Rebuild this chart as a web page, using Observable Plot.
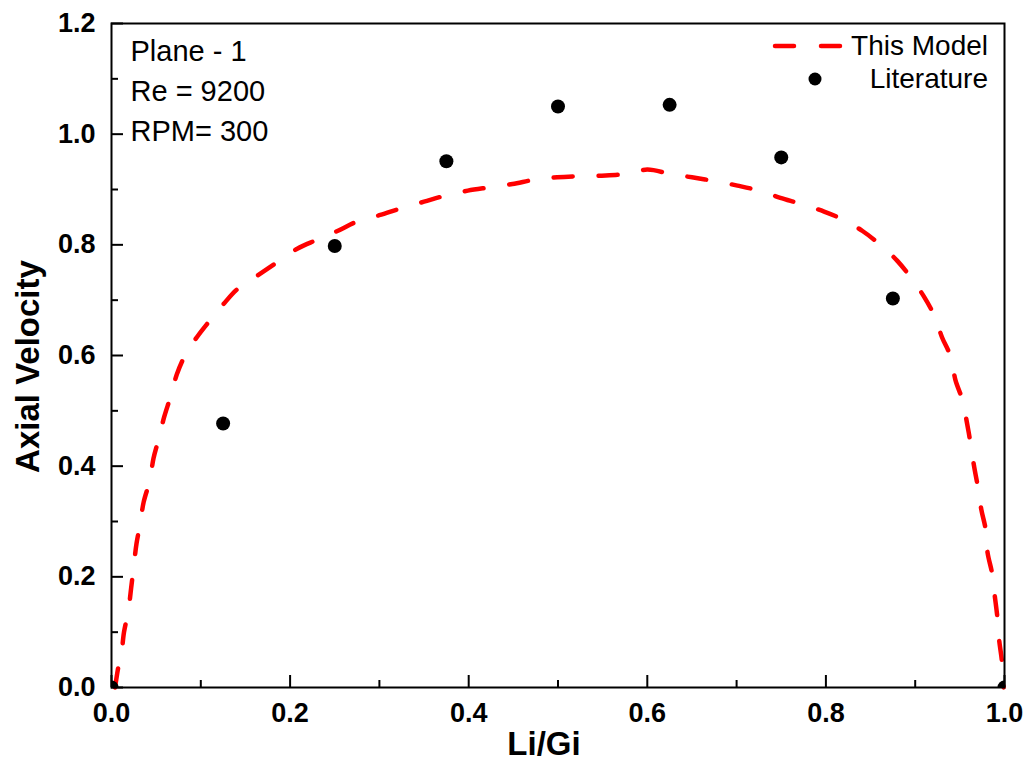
<!DOCTYPE html>
<html>
<head>
<meta charset="utf-8">
<script src="https://cdn.jsdelivr.net/npm/d3@7"></script>
<script src="https://cdn.jsdelivr.net/npm/@observablehq/plot@0.6"></script>
<style>
  html, body { margin: 0; padding: 0; background: #fff; }
  #chart { width: 1030px; height: 763px; }
</style>
</head>
<body>
<div id="chart"></div>
<script>
// ---- Data ----
const modelX = [0.004, 0.008, 0.011, 0.014, 0.019, 0.022, 0.025, 0.028, 0.032, 0.036, 0.043, 0.047, 0.053,
  0.059, 0.066, 0.073, 0.082, 0.096, 0.109, 0.126, 0.141, 0.165, 0.184, 0.208, 0.230, 0.253, 0.275,
  0.301, 0.324, 0.350, 0.374, 0.399, 0.424, 0.449, 0.475, 0.499, 0.525, 0.549, 0.576, 0.600, 0.626,
  0.650, 0.676, 0.701, 0.725, 0.749, 0.772, 0.798, 0.820, 0.841, 0.861, 0.880, 0.895, 0.910, 0.922,
  0.930, 0.940, 0.945, 0.953, 0.958, 0.962, 0.966, 0.970, 0.974, 0.979, 0.981, 0.986, 0.989, 0.992,
  0.994, 0.997, 0.999];
const modelY = [0.0, 0.04, 0.06, 0.10, 0.14, 0.18, 0.22, 0.26, 0.295, 0.335, 0.375, 0.414, 0.450,
  0.489, 0.525, 0.565, 0.599, 0.634, 0.661, 0.694, 0.720, 0.746, 0.767, 0.793, 0.809, 0.825, 0.842,
  0.854, 0.866, 0.878, 0.889, 0.898, 0.904, 0.910, 0.918, 0.922, 0.924, 0.925, 0.928, 0.936, 0.928,
  0.922, 0.915, 0.907, 0.898, 0.885, 0.874, 0.860, 0.845, 0.825, 0.800, 0.771, 0.741, 0.706, 0.670,
  0.633, 0.597, 0.556, 0.519, 0.478, 0.441, 0.399, 0.364, 0.322, 0.285, 0.244, 0.207, 0.167, 0.127,
  0.086, 0.049, 0.0];

const litX = [0, 0.125, 0.25, 0.375, 0.5, 0.625, 0.75, 0.875, 1.0];
const litY = [0, 0.477, 0.798, 0.951, 1.050, 1.053, 0.958, 0.703, 0];

const xMajorTicks = [0, 0.2, 0.4, 0.6, 0.8, 1.0];
const xMinorTicks = [0.1, 0.3, 0.5, 0.7, 0.9];
const yMajorTicks = [0, 0.2, 0.4, 0.6, 0.8, 1.0, 1.2];
const yMinorTicks = [0.1, 0.3, 0.5, 0.7, 0.9, 1.1];

const annotationLines = ["Plane - 1", "Re = 9200", "RPM= 300"];
const legendLabels = ["This Model", "Literature"];
const xLabel = "Li/Gi";
const yLabel = "Axial Velocity";

// ---- Build ----
const model = modelX.map((x, i) => ({x, y: modelY[i]}));
const lit = litX.map((x, i) => ({x, y: litY[i]}));

const W = 1030, H = 763;
const mL = 111, mR = 26, mT = 23, mB = 76;
const plotW = W - mL - mR, plotH = H - mT - mB;
const FONT = "'Liberation Sans', Arial, Helvetica, sans-serif";
const RED = "#ff0000";
const DASH = "19,26";

function legend(index, scales, values, dimensions) {
  const g = d3.create("svg:g").attr("font-family", FONT).attr("font-size", 28);
  const right = dimensions.width - dimensions.marginRight;
  const top = dimensions.marginTop;
  const textRight = right - 16;
  // This Model
  g.append("line")
    .attr("x1", right - 229).attr("x2", right - 161)
    .attr("y1", top + 23).attr("y2", top + 23)
    .attr("stroke", RED).attr("stroke-width", 4.5)
    .attr("stroke-dasharray", "19,27").attr("stroke-linecap", "round");
  g.append("text").attr("x", textRight).attr("y", top + 32)
    .attr("text-anchor", "end").attr("fill", "black").text(legendLabels[0]);
  // Literature
  g.append("circle").attr("cx", right - 189).attr("cy", top + 56).attr("r", 6.5).attr("fill", "black");
  g.append("text").attr("x", textRight).attr("y", top + 65)
    .attr("text-anchor", "end").attr("fill", "black").text(legendLabels[1]);
  return g.node();
}

const chart = Plot.plot({
  width: W,
  height: H,
  marginLeft: mL,
  marginRight: mR,
  marginTop: mT,
  marginBottom: mB,
  style: {fontFamily: FONT, background: "white", color: "black"},
  x: {domain: [0, 1.0]},
  y: {domain: [0, 1.2]},
  marks: [
    // model dashed curve
    Plot.line(model, {x: "x", y: "y", stroke: RED, strokeWidth: 4.5, curve: "catmull-rom",
      strokeDasharray: DASH, strokeLinecap: "round", strokeLinejoin: "round"}),
    // literature dots
    Plot.dot(lit, {x: "x", y: "y", r: 7, fill: "black", stroke: "none", clip: "frame"}),
    // inward ticks
    Plot.tickX(xMajorTicks, {x: d => d, stroke: "black", strokeWidth: 2, insetTop: plotH - 12}),
    Plot.tickX(xMinorTicks, {x: d => d, stroke: "black", strokeWidth: 2, insetTop: plotH - 7}),
    Plot.tickY(yMajorTicks, {y: d => d, stroke: "black", strokeWidth: 2, insetRight: plotW - 12}),
    Plot.tickY(yMinorTicks, {y: d => d, stroke: "black", strokeWidth: 2, insetRight: plotW - 7}),
    // axes labels (tick values)
    Plot.axisX({ticks: xMajorTicks, tickSize: 0, tickPadding: 15, tickFormat: d3.format(".1f"),
      fontSize: 27, fontWeight: "bold", label: null}),
    Plot.axisY({ticks: yMajorTicks, tickSize: 0, tickPadding: 16, tickFormat: d3.format(".1f"),
      fontSize: 27, fontWeight: "bold", label: null}),
    // axis titles
    Plot.text([xLabel], {frameAnchor: "bottom", dx: -14, dy: 57, text: d => d, textAnchor: "middle",
      fontSize: 33, fontWeight: "bold", fill: "black", lineAnchor: "middle"}),
    Plot.text([yLabel], {frameAnchor: "left", dx: -83, dy: 11, rotate: -90, text: d => d, textAnchor: "middle",
      fontSize: 33, fontWeight: "bold", fill: "black", lineAnchor: "middle"}),
    // annotation
    Plot.text([annotationLines.join("\n")], {frameAnchor: "top-left", dx: 19, dy: 9, text: d => d,
      fontSize: 29, lineHeight: 1.38, textAnchor: "start", lineAnchor: "top", fill: "black"}),
    // frame
    Plot.frame({stroke: "black", strokeWidth: 2}),
    // legend
    legend
  ]
});

document.getElementById("chart").appendChild(chart);
</script>
</body>
</html>
